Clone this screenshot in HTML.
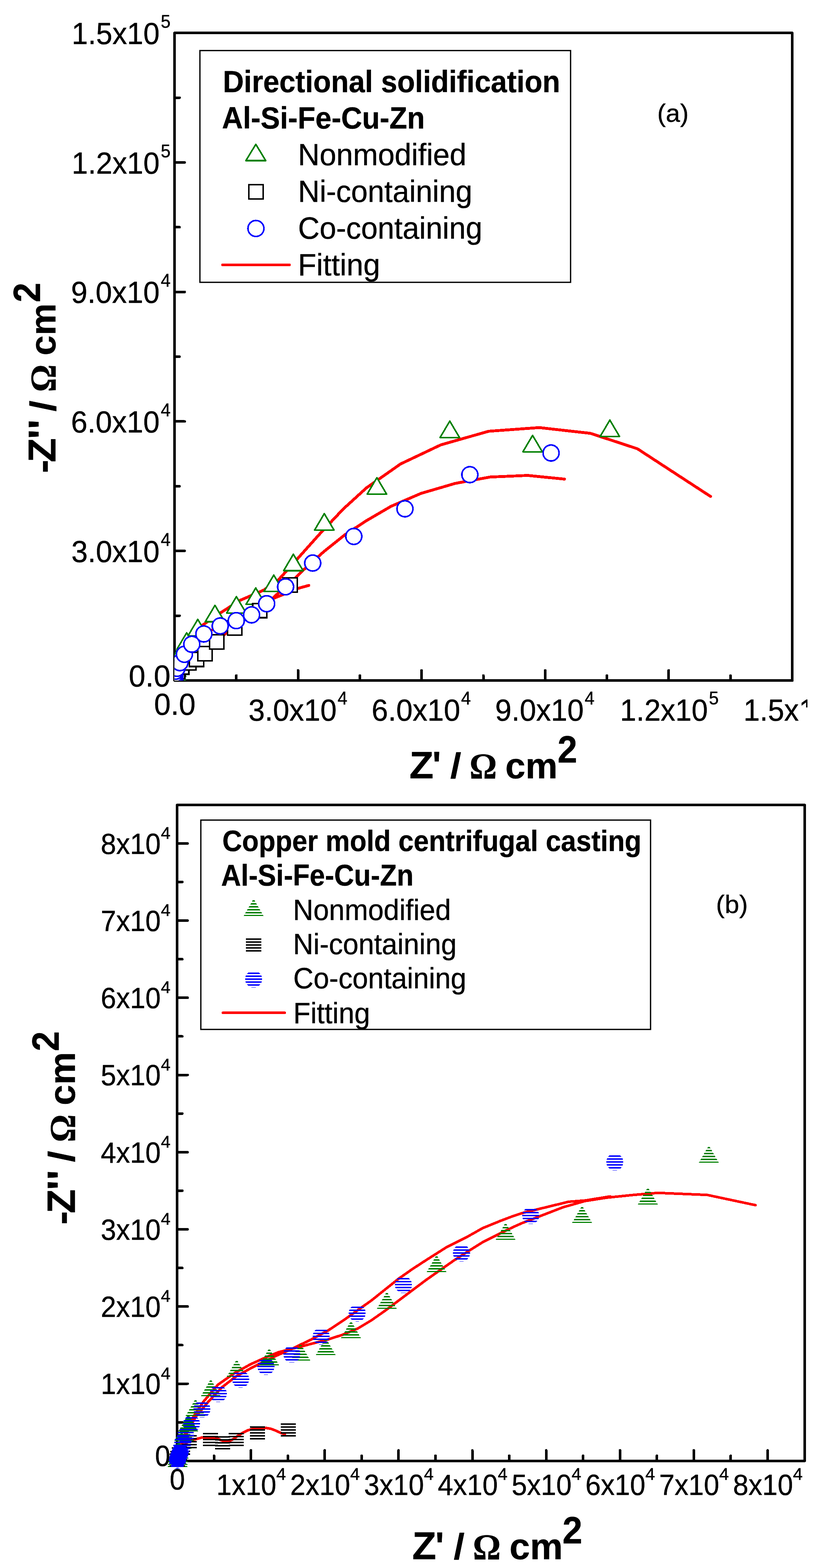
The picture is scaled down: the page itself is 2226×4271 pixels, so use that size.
<!DOCTYPE html>
<html lang="en"><head><meta charset="utf-8"><title>Nyquist plots</title>
<style>html,body{margin:0;padding:0;background:#fff}svg{display:block}text{stroke:#000;stroke-width:.6px;stroke-linejoin:round}</style>
</head><body>
<svg width="2226" height="4271" viewBox="0 0 2226 4271" shape-rendering="crispEdges" font-family="'Liberation Sans', sans-serif" fill="#000">
<rect width="2226" height="4271" fill="#fff"/>
<g id="a">
<rect x="475.6" y="89.7" width="1682.9" height="1763.8" fill="none" stroke="#000" stroke-width="7" stroke-linejoin="round"/>
<line x1="643.89" y1="1853.5" x2="643.89" y2="1840" stroke="#000" stroke-width="7" stroke-linecap="round"/>
<line x1="475.6" y1="1677.12" x2="489.1" y2="1677.12" stroke="#000" stroke-width="7" stroke-linecap="round"/>
<line x1="812.18" y1="1853.5" x2="812.18" y2="1826" stroke="#000" stroke-width="7" stroke-linecap="round"/>
<line x1="475.6" y1="1500.74" x2="503.1" y2="1500.74" stroke="#000" stroke-width="7" stroke-linecap="round"/>
<line x1="980.47" y1="1853.5" x2="980.47" y2="1840" stroke="#000" stroke-width="7" stroke-linecap="round"/>
<line x1="475.6" y1="1324.36" x2="489.1" y2="1324.36" stroke="#000" stroke-width="7" stroke-linecap="round"/>
<line x1="1148.76" y1="1853.5" x2="1148.76" y2="1826" stroke="#000" stroke-width="7" stroke-linecap="round"/>
<line x1="475.6" y1="1147.98" x2="503.1" y2="1147.98" stroke="#000" stroke-width="7" stroke-linecap="round"/>
<line x1="1317.05" y1="1853.5" x2="1317.05" y2="1840" stroke="#000" stroke-width="7" stroke-linecap="round"/>
<line x1="475.6" y1="971.6" x2="489.1" y2="971.6" stroke="#000" stroke-width="7" stroke-linecap="round"/>
<line x1="1485.34" y1="1853.5" x2="1485.34" y2="1826" stroke="#000" stroke-width="7" stroke-linecap="round"/>
<line x1="475.6" y1="795.22" x2="503.1" y2="795.22" stroke="#000" stroke-width="7" stroke-linecap="round"/>
<line x1="1653.63" y1="1853.5" x2="1653.63" y2="1840" stroke="#000" stroke-width="7" stroke-linecap="round"/>
<line x1="475.6" y1="618.84" x2="489.1" y2="618.84" stroke="#000" stroke-width="7" stroke-linecap="round"/>
<line x1="1821.92" y1="1853.5" x2="1821.92" y2="1826" stroke="#000" stroke-width="7" stroke-linecap="round"/>
<line x1="475.6" y1="442.46" x2="503.1" y2="442.46" stroke="#000" stroke-width="7" stroke-linecap="round"/>
<line x1="1990.21" y1="1853.5" x2="1990.21" y2="1840" stroke="#000" stroke-width="7" stroke-linecap="round"/>
<line x1="475.6" y1="266.08" x2="489.1" y2="266.08" stroke="#000" stroke-width="7" stroke-linecap="round"/>
<text transform="translate(195.32,119.85) scale(0.9974,1.0404)" font-size="80">1.5x10</text>
<text transform="translate(437.9,75.75) scale(1.0000,1.0485)" font-size="48">5</text>
<text transform="translate(195.32,472.61) scale(0.9974,1.0404)" font-size="80">1.2x10</text>
<text transform="translate(437.9,428.51) scale(1.0000,1.0485)" font-size="48">5</text>
<text transform="translate(193.48,825.37) scale(1.0052,1.0404)" font-size="80">9.0x10</text>
<text transform="translate(437.9,781.27) scale(1.0000,1.0303)" font-size="48">4</text>
<text transform="translate(193.48,1178.13) scale(1.0052,1.0404)" font-size="80">6.0x10</text>
<text transform="translate(437.9,1134.03) scale(1.0000,1.0303)" font-size="48">4</text>
<text transform="translate(194.5,1530.89) scale(1.0009,1.0404)" font-size="80">3.0x10</text>
<text transform="translate(437.9,1486.79) scale(1.0000,1.0303)" font-size="48">4</text>
<text transform="translate(350.83,1869.5) scale(1.0219,1.0404)" font-size="80">0.0</text>
<text transform="translate(676.88,1962.8) scale(1.0009,1.0404)" font-size="80">3.0x10</text>
<text transform="translate(919.78,1918.7) scale(1.0000,1.0303)" font-size="48">4</text>
<text transform="translate(1012.44,1962.8) scale(1.0052,1.0404)" font-size="80">6.0x10</text>
<text transform="translate(1256.36,1918.7) scale(1.0000,1.0303)" font-size="48">4</text>
<text transform="translate(1349.02,1962.8) scale(1.0052,1.0404)" font-size="80">9.0x10</text>
<text transform="translate(1592.94,1918.7) scale(1.0000,1.0303)" font-size="48">4</text>
<text transform="translate(1689.14,1962.8) scale(0.9974,1.0404)" font-size="80">1.2x10</text>
<text transform="translate(1931.52,1918.7) scale(1.0000,1.0485)" font-size="48">5</text>
<text transform="translate(2025.72,1962.8) scale(0.9974,1.0404)" font-size="80">1.5x10</text>
<text transform="translate(2268.1,1918.7) scale(1.0000,1.0485)" font-size="48">5</text>
<text transform="translate(419.64,1947.3) scale(1.0190,1.0404)" font-size="80">0.0</text>
<text transform="translate(1115.57,2119.7) scale(1.0764,1.0435)" font-size="100" font-weight="bold">Z</text>
<text transform="translate(1177.94,2119.7) scale(0.9929,1.0435)" font-size="100" font-weight="bold">'</text>
<text transform="translate(1226.72,2119.2) scale(1.0808,0.9730)" font-size="100" font-weight="bold">/</text>
<text transform="translate(1279.24,2119.7) scale(0.9324,0.9894)" font-size="100" font-weight="bold" font-family="'Liberation Serif', serif">Ω</text>
<text transform="translate(1376.75,2119.7) scale(0.9866,0.9745)" font-size="100" font-weight="bold">cm</text>
<text transform="translate(1519.1,2076.7) scale(0.9673,1.0314)" font-size="100" font-weight="bold">2</text>
<g transform="translate(151.2,1284.4) rotate(-90)">
<text transform="translate(-4.43,0) scale(1.1080,1.0478)" font-size="100" font-weight="bold">-</text>
<text transform="translate(24.84,0) scale(1.0855,1.0478)" font-size="100" font-weight="bold">Z</text>
<text transform="translate(88.21,0) scale(1.1378,1.0478)" font-size="100" font-weight="bold">''</text>
<text transform="translate(163.32,-0.5) scale(1.0808,0.9770)" font-size="100" font-weight="bold">/</text>
<text transform="translate(216.7,0) scale(0.9394,1.0030)" font-size="100" font-weight="bold" font-family="'Liberation Serif', serif">Ω</text>
<text transform="translate(316.17,0) scale(0.9828,0.9855)" font-size="100" font-weight="bold">cm</text>
<text transform="translate(460.91,-42.4) scale(0.9633,1.0314)" font-size="100" font-weight="bold">2</text>
</g>
<clipPath id="ca"><rect x="475.6" y="89.7" width="1682.9" height="1763.8"/></clipPath>
<g clip-path="url(#ca)">
<polyline points="476,1851 479,1830 484,1806 491,1786 500,1766 510,1750 524,1730 540,1713 552.3,1702.5 600,1669.8 653.6,1635.5 719.1,1607.2 757.8,1580.4 808.4,1524.4 871.7,1453.7 935,1386.7 998.3,1329 1091.3,1263.8 1201.2,1211.7 1331.3,1174.7 1469,1164.7 1608.5,1180.3 1736.8,1222.4 1936,1352.3" fill="none" stroke="#ff0000" stroke-width="7.8" stroke-linejoin="round" stroke-linecap="round"/>
<polyline points="476,1852 484,1830 495,1817 514.6,1805.4 535.3,1796 558.5,1780.7 590.4,1748.4 615,1725 639.3,1705 690,1660 745,1630 775,1618 811,1603 841.5,1594.6" fill="none" stroke="#ff0000" stroke-width="7.8" stroke-linejoin="round" stroke-linecap="round"/>
<polyline points="476,1851 478,1835 482.2,1820.4 490,1805 502,1782 522.6,1755 555.4,1726.7 600,1705 643.8,1690.6 685.5,1674.8 726.6,1644.5 760,1614 795.4,1584 827,1552.3 882.9,1502.1 938.7,1457.4 998.3,1418.3 1065.3,1379.2 1147.2,1343.9 1240.3,1316.7 1335,1299.4 1437.4,1295 1537.9,1305" fill="none" stroke="#ff0000" stroke-width="7.8" stroke-linejoin="round" stroke-linecap="round"/>
<path d="M479.5 1809.15L505.95 1853.85L453.05 1853.85Z" fill="#fff" stroke="#008000" stroke-width="4.3" stroke-linejoin="round"/>
<path d="M479.5 1797.65L505.95 1842.35L453.05 1842.35Z" fill="#fff" stroke="#008000" stroke-width="4.3" stroke-linejoin="round"/>
<path d="M482 1782.65L508.45 1827.35L455.55 1827.35Z" fill="#fff" stroke="#008000" stroke-width="4.3" stroke-linejoin="round"/>
<path d="M490.6 1757.65L517.05 1802.35L464.15 1802.35Z" fill="#fff" stroke="#008000" stroke-width="4.3" stroke-linejoin="round"/>
<path d="M508.6 1723.55L535.05 1768.25L482.15 1768.25Z" fill="#fff" stroke="#008000" stroke-width="4.3" stroke-linejoin="round"/>
<path d="M538.9 1686.95L565.35 1731.65L512.45 1731.65Z" fill="#fff" stroke="#008000" stroke-width="4.3" stroke-linejoin="round"/>
<path d="M585.7 1648.85L612.15 1693.55L559.25 1693.55Z" fill="#fff" stroke="#008000" stroke-width="4.3" stroke-linejoin="round"/>
<path d="M644.1 1625.05L670.55 1669.75L617.65 1669.75Z" fill="#fff" stroke="#008000" stroke-width="4.3" stroke-linejoin="round"/>
<path d="M696.8 1601.45L723.25 1646.15L670.35 1646.15Z" fill="#fff" stroke="#008000" stroke-width="4.3" stroke-linejoin="round"/>
<path d="M745.9 1566.35L772.35 1611.05L719.45 1611.05Z" fill="#fff" stroke="#008000" stroke-width="4.3" stroke-linejoin="round"/>
<path d="M799.3 1509.65L825.75 1554.35L772.85 1554.35Z" fill="#fff" stroke="#008000" stroke-width="4.3" stroke-linejoin="round"/>
<path d="M883.6 1399.05L910.05 1443.75L857.15 1443.75Z" fill="#fff" stroke="#008000" stroke-width="4.3" stroke-linejoin="round"/>
<path d="M1026.9 1301.15L1053.35 1345.85L1000.45 1345.85Z" fill="#fff" stroke="#008000" stroke-width="4.3" stroke-linejoin="round"/>
<path d="M1225.5 1147.05L1251.95 1191.75L1199.05 1191.75Z" fill="#fff" stroke="#008000" stroke-width="4.3" stroke-linejoin="round"/>
<path d="M1451.1 1185.95L1477.55 1230.65L1424.65 1230.65Z" fill="#fff" stroke="#008000" stroke-width="4.3" stroke-linejoin="round"/>
<path d="M1661.6 1144.25L1688.05 1188.95L1635.15 1188.95Z" fill="#fff" stroke="#008000" stroke-width="4.3" stroke-linejoin="round"/>
<rect x="457.65" y="1825.65" width="38.7" height="38.7" fill="#fff" stroke="#000" stroke-width="4.3"/>
<rect x="459.65" y="1818.65" width="38.7" height="38.7" fill="#fff" stroke="#000" stroke-width="4.3"/>
<rect x="464.65" y="1810.35" width="38.7" height="38.7" fill="#fff" stroke="#000" stroke-width="4.3"/>
<rect x="475.85" y="1797.95" width="38.7" height="38.7" fill="#fff" stroke="#000" stroke-width="4.3"/>
<rect x="495.35" y="1786.05" width="38.7" height="38.7" fill="#fff" stroke="#000" stroke-width="4.3"/>
<rect x="516.05" y="1776.75" width="38.7" height="38.7" fill="#fff" stroke="#000" stroke-width="4.3"/>
<rect x="539.15" y="1761.35" width="38.7" height="38.7" fill="#fff" stroke="#000" stroke-width="4.3"/>
<rect x="571.15" y="1729.15" width="38.7" height="38.7" fill="#fff" stroke="#000" stroke-width="4.3"/>
<rect x="619.95" y="1691.55" width="38.7" height="38.7" fill="#fff" stroke="#000" stroke-width="4.3"/>
<rect x="688.45" y="1643.85" width="38.7" height="38.7" fill="#fff" stroke="#000" stroke-width="4.3"/>
<rect x="771.35" y="1574.15" width="38.7" height="38.7" fill="#fff" stroke="#000" stroke-width="4.3"/>
<circle cx="475.8" cy="1850.5" r="21.75" fill="#fff" stroke="#0000ff" stroke-width="4.3"/>
<circle cx="476" cy="1847" r="21.75" fill="#fff" stroke="#0000ff" stroke-width="4.3"/>
<circle cx="476" cy="1842" r="21.75" fill="#fff" stroke="#0000ff" stroke-width="4.3"/>
<circle cx="476.5" cy="1836" r="21.75" fill="#fff" stroke="#0000ff" stroke-width="4.3"/>
<circle cx="477.7" cy="1828.5" r="21.75" fill="#fff" stroke="#0000ff" stroke-width="4.3"/>
<circle cx="482.2" cy="1820.4" r="21.75" fill="#fff" stroke="#0000ff" stroke-width="4.3"/>
<circle cx="490.2" cy="1805" r="21.75" fill="#fff" stroke="#0000ff" stroke-width="4.3"/>
<circle cx="502.4" cy="1782.2" r="21.75" fill="#fff" stroke="#0000ff" stroke-width="4.3"/>
<circle cx="522.6" cy="1754.9" r="21.75" fill="#fff" stroke="#0000ff" stroke-width="4.3"/>
<circle cx="555.4" cy="1726.8" r="21.75" fill="#fff" stroke="#0000ff" stroke-width="4.3"/>
<circle cx="600" cy="1705" r="21.75" fill="#fff" stroke="#0000ff" stroke-width="4.3"/>
<circle cx="643.8" cy="1690.6" r="21.75" fill="#fff" stroke="#0000ff" stroke-width="4.3"/>
<circle cx="685.5" cy="1674.8" r="21.75" fill="#fff" stroke="#0000ff" stroke-width="4.3"/>
<circle cx="726.6" cy="1644.5" r="21.75" fill="#fff" stroke="#0000ff" stroke-width="4.3"/>
<circle cx="778.1" cy="1598.3" r="21.75" fill="#fff" stroke="#0000ff" stroke-width="4.3"/>
<circle cx="852" cy="1533.7" r="21.75" fill="#fff" stroke="#0000ff" stroke-width="4.3"/>
<circle cx="964" cy="1461.1" r="21.75" fill="#fff" stroke="#0000ff" stroke-width="4.3"/>
<circle cx="1103.3" cy="1385.9" r="21.75" fill="#fff" stroke="#0000ff" stroke-width="4.3"/>
<circle cx="1280.1" cy="1292.9" r="21.75" fill="#fff" stroke="#0000ff" stroke-width="4.3"/>
<circle cx="1501.4" cy="1233.9" r="21.75" fill="#fff" stroke="#0000ff" stroke-width="4.3"/>
</g>
<rect x="544.7" y="137.7" width="1009.9" height="631.3" fill="#fff" stroke="#000" stroke-width="3.5" shape-rendering="geometricPrecision"/>
<text transform="translate(607.15,250.9) scale(0.9894,1.0369)" font-size="80" font-weight="bold">Directional solidification</text>
<text transform="translate(604.82,349.9) scale(0.9875,1.0527)" font-size="80" font-weight="bold">Al-Si-Fe-Cu-Zn</text>
<text transform="translate(811.85,450.2) scale(1.0217,1.0351)" font-size="80">Nonmodified</text>
<text transform="translate(811.88,549.9) scale(1.0174,1.0351)" font-size="80">Ni-containing</text>
<text transform="translate(811.93,649.8) scale(1.0176,1.0351)" font-size="80">Co-containing</text>
<text transform="translate(811.81,749.8) scale(1.0273,1.0351)" font-size="80">Fitting</text>
<path d="M697 393.05L724.05 437.55L669.95 437.55Z" fill="#fff" stroke="#008000" stroke-width="4.3" stroke-linejoin="round"/>
<rect x="678.25" y="503.25" width="38.7" height="38.7" fill="#fff" stroke="#000" stroke-width="4.3"/>
<circle cx="697.3" cy="622.3" r="21.75" fill="#fff" stroke="#0000ff" stroke-width="4.3"/>
<line x1="606.8" y1="721.4" x2="788.2" y2="721.4" stroke="#ff0000" stroke-width="7.8" stroke-linecap="round"/>
<text transform="translate(1790.75,332.3) scale(1.0132,1.0000)" font-size="69">(a)</text>
<rect x="2200" y="0" width="26" height="2180" fill="#fff"/>
<rect x="2178" y="1927" width="24" height="40" fill="#fff"/>
</g>
<g id="b">
<rect x="482.6" y="2192.7" width="1709.9" height="1786.6" fill="none" stroke="#000" stroke-width="7" stroke-linejoin="round"/>
<line x1="583.15" y1="3979.3" x2="583.15" y2="3965.3" stroke="#000" stroke-width="7" stroke-linecap="round"/>
<line x1="482.6" y1="3874.18" x2="496.6" y2="3874.18" stroke="#000" stroke-width="7" stroke-linecap="round"/>
<line x1="683.7" y1="3979.3" x2="683.7" y2="3950.8" stroke="#000" stroke-width="7" stroke-linecap="round"/>
<line x1="482.6" y1="3769.05" x2="511.1" y2="3769.05" stroke="#000" stroke-width="7" stroke-linecap="round"/>
<line x1="784.25" y1="3979.3" x2="784.25" y2="3965.3" stroke="#000" stroke-width="7" stroke-linecap="round"/>
<line x1="482.6" y1="3663.93" x2="496.6" y2="3663.93" stroke="#000" stroke-width="7" stroke-linecap="round"/>
<line x1="884.8" y1="3979.3" x2="884.8" y2="3950.8" stroke="#000" stroke-width="7" stroke-linecap="round"/>
<line x1="482.6" y1="3558.8" x2="511.1" y2="3558.8" stroke="#000" stroke-width="7" stroke-linecap="round"/>
<line x1="985.35" y1="3979.3" x2="985.35" y2="3965.3" stroke="#000" stroke-width="7" stroke-linecap="round"/>
<line x1="482.6" y1="3453.68" x2="496.6" y2="3453.68" stroke="#000" stroke-width="7" stroke-linecap="round"/>
<line x1="1085.9" y1="3979.3" x2="1085.9" y2="3950.8" stroke="#000" stroke-width="7" stroke-linecap="round"/>
<line x1="482.6" y1="3348.55" x2="511.1" y2="3348.55" stroke="#000" stroke-width="7" stroke-linecap="round"/>
<line x1="1186.45" y1="3979.3" x2="1186.45" y2="3965.3" stroke="#000" stroke-width="7" stroke-linecap="round"/>
<line x1="482.6" y1="3243.43" x2="496.6" y2="3243.43" stroke="#000" stroke-width="7" stroke-linecap="round"/>
<line x1="1287" y1="3979.3" x2="1287" y2="3950.8" stroke="#000" stroke-width="7" stroke-linecap="round"/>
<line x1="482.6" y1="3138.3" x2="511.1" y2="3138.3" stroke="#000" stroke-width="7" stroke-linecap="round"/>
<line x1="1387.55" y1="3979.3" x2="1387.55" y2="3965.3" stroke="#000" stroke-width="7" stroke-linecap="round"/>
<line x1="482.6" y1="3033.18" x2="496.6" y2="3033.18" stroke="#000" stroke-width="7" stroke-linecap="round"/>
<line x1="1488.1" y1="3979.3" x2="1488.1" y2="3950.8" stroke="#000" stroke-width="7" stroke-linecap="round"/>
<line x1="482.6" y1="2928.05" x2="511.1" y2="2928.05" stroke="#000" stroke-width="7" stroke-linecap="round"/>
<line x1="1588.65" y1="3979.3" x2="1588.65" y2="3965.3" stroke="#000" stroke-width="7" stroke-linecap="round"/>
<line x1="482.6" y1="2822.93" x2="496.6" y2="2822.93" stroke="#000" stroke-width="7" stroke-linecap="round"/>
<line x1="1689.2" y1="3979.3" x2="1689.2" y2="3950.8" stroke="#000" stroke-width="7" stroke-linecap="round"/>
<line x1="482.6" y1="2717.8" x2="511.1" y2="2717.8" stroke="#000" stroke-width="7" stroke-linecap="round"/>
<line x1="1789.75" y1="3979.3" x2="1789.75" y2="3965.3" stroke="#000" stroke-width="7" stroke-linecap="round"/>
<line x1="482.6" y1="2612.68" x2="496.6" y2="2612.68" stroke="#000" stroke-width="7" stroke-linecap="round"/>
<line x1="1890.3" y1="3979.3" x2="1890.3" y2="3950.8" stroke="#000" stroke-width="7" stroke-linecap="round"/>
<line x1="482.6" y1="2507.55" x2="511.1" y2="2507.55" stroke="#000" stroke-width="7" stroke-linecap="round"/>
<line x1="1990.85" y1="3979.3" x2="1990.85" y2="3965.3" stroke="#000" stroke-width="7" stroke-linecap="round"/>
<line x1="482.6" y1="2402.43" x2="496.6" y2="2402.43" stroke="#000" stroke-width="7" stroke-linecap="round"/>
<line x1="2091.4" y1="3979.3" x2="2091.4" y2="3950.8" stroke="#000" stroke-width="7" stroke-linecap="round"/>
<line x1="482.6" y1="2297.3" x2="511.1" y2="2297.3" stroke="#000" stroke-width="7" stroke-linecap="round"/>
<text transform="translate(274.5,3797.45) scale(0.9669,1.0236)" font-size="78">1x10</text>
<text transform="translate(438.37,3756.55) scale(1.0261,1.0000)" font-size="46">4</text>
<text transform="translate(589.5,4072.1) scale(0.9669,1.0236)" font-size="78">1x10</text>
<text transform="translate(752.87,4030.9) scale(1.0348,1.0031)" font-size="46">4</text>
<text transform="translate(274.5,3587.2) scale(0.9669,1.0236)" font-size="78">2x10</text>
<text transform="translate(438.37,3546.3) scale(1.0261,1.0000)" font-size="46">4</text>
<text transform="translate(790.6,4072.1) scale(0.9669,1.0236)" font-size="78">2x10</text>
<text transform="translate(953.97,4030.9) scale(1.0348,1.0031)" font-size="46">4</text>
<text transform="translate(274.5,3376.95) scale(0.9669,1.0236)" font-size="78">3x10</text>
<text transform="translate(438.37,3336.05) scale(1.0261,1.0000)" font-size="46">4</text>
<text transform="translate(991.7,4072.1) scale(0.9669,1.0236)" font-size="78">3x10</text>
<text transform="translate(1155.07,4030.9) scale(1.0348,1.0031)" font-size="46">4</text>
<text transform="translate(274.5,3166.7) scale(0.9669,1.0236)" font-size="78">4x10</text>
<text transform="translate(438.37,3125.8) scale(1.0261,1.0000)" font-size="46">4</text>
<text transform="translate(1192.8,4072.1) scale(0.9669,1.0236)" font-size="78">4x10</text>
<text transform="translate(1356.17,4030.9) scale(1.0348,1.0031)" font-size="46">4</text>
<text transform="translate(274.5,2956.45) scale(0.9669,1.0236)" font-size="78">5x10</text>
<text transform="translate(438.37,2915.55) scale(1.0261,1.0000)" font-size="46">4</text>
<text transform="translate(1393.9,4072.1) scale(0.9669,1.0236)" font-size="78">5x10</text>
<text transform="translate(1557.27,4030.9) scale(1.0348,1.0031)" font-size="46">4</text>
<text transform="translate(274.5,2746.2) scale(0.9669,1.0236)" font-size="78">6x10</text>
<text transform="translate(438.37,2705.3) scale(1.0261,1.0000)" font-size="46">4</text>
<text transform="translate(1595,4072.1) scale(0.9669,1.0236)" font-size="78">6x10</text>
<text transform="translate(1758.37,4030.9) scale(1.0348,1.0031)" font-size="46">4</text>
<text transform="translate(274.5,2535.95) scale(0.9669,1.0236)" font-size="78">7x10</text>
<text transform="translate(438.37,2495.05) scale(1.0261,1.0000)" font-size="46">4</text>
<text transform="translate(1796.1,4072.1) scale(0.9669,1.0236)" font-size="78">7x10</text>
<text transform="translate(1959.47,4030.9) scale(1.0348,1.0031)" font-size="46">4</text>
<text transform="translate(274.5,2325.7) scale(0.9669,1.0236)" font-size="78">8x10</text>
<text transform="translate(438.37,2284.8) scale(1.0261,1.0000)" font-size="46">4</text>
<text transform="translate(1997.2,4072.1) scale(0.9669,1.0236)" font-size="78">8x10</text>
<text transform="translate(2160.57,4030.9) scale(1.0348,1.0031)" font-size="46">4</text>
<text transform="translate(422.21,3992.8) scale(0.9649,1.0236)" font-size="78">0</text>
<text transform="translate(462.31,4056.7) scale(0.9622,1.0236)" font-size="78">0</text>
<text transform="translate(1122.88,4246.9) scale(1.0745,1.0580)" font-size="100" font-weight="bold">Z</text>
<text transform="translate(1185.96,4246.9) scale(1.0071,1.0580)" font-size="100" font-weight="bold">'</text>
<text transform="translate(1236.03,4246.4) scale(1.0731,0.9865)" font-size="100" font-weight="bold">/</text>
<text transform="translate(1288.24,4246.9) scale(0.9521,0.9985)" font-size="100" font-weight="bold" font-family="'Liberation Serif', serif">Ω</text>
<text transform="translate(1387.98,4246.9) scale(1.0060,0.9927)" font-size="100" font-weight="bold">cm</text>
<text transform="translate(1532.57,4203.9) scale(0.9755,1.0457)" font-size="100" font-weight="bold">2</text>
<g transform="translate(203.7,3331.6) rotate(-90)">
<text transform="translate(-4.5,0) scale(1.1240,1.0710)" font-size="100" font-weight="bold">-</text>
<text transform="translate(26.36,0) scale(1.0800,1.0710)" font-size="100" font-weight="bold">Z</text>
<text transform="translate(89.7,0) scale(1.1595,1.0710)" font-size="100" font-weight="bold">''</text>
<text transform="translate(166.19,-0.5) scale(1.1077,0.9986)" font-size="100" font-weight="bold">/</text>
<text transform="translate(220.25,0) scale(0.9493,1.0030)" font-size="100" font-weight="bold" font-family="'Liberation Serif', serif">Ω</text>
<text transform="translate(320.88,0) scale(1.0060,1.0018)" font-size="100" font-weight="bold">cm</text>
<text transform="translate(468.06,-43.8) scale(0.9816,1.0414)" font-size="100" font-weight="bold">2</text>
</g>
<polyline points="483,3976 487,3955 493,3935 500,3915 513,3885 527,3858.7 553.8,3818.5 594,3771.6 638.7,3740.3 683.4,3715.7 728.1,3695.6 760,3682.8 785,3676.5 838.9,3662.8 894,3648.5 933.5,3635.6 974.5,3618.8 1011.7,3596.5 1048.9,3570.4 1086.2,3542.5 1123.4,3514.6 1160.6,3486.7 1197.8,3460.6 1235.1,3434.5 1272.3,3410.3 1317,3382.4 1365.4,3358.2 1400,3341.5 1422.7,3331.4 1534.4,3288.3 1593.8,3271.5 1653.7,3262.2 1726,3254.8 1793,3249.2 1927,3254.8 2058.5,3282.7" fill="none" stroke="#ff0000" stroke-width="7" stroke-linejoin="round" stroke-linecap="round"/>
<polyline points="483,3977 488,3958 495,3938 504,3915 517,3888 533.7,3858.7 567.2,3818.5 605.2,3778.3 643.2,3749.2 683.4,3726.9 728.1,3704.6 760,3689.5 785,3679 815,3664.5 849.4,3648 894,3624 937.2,3595.5 974.5,3568.8 1011.7,3542.5 1048.9,3512.7 1086.2,3483 1123.4,3456.9 1160.6,3432.7 1216.5,3397.3 1272.3,3369.4 1315.1,3345.2 1365.4,3324.7 1400,3311.7 1426.6,3303.2 1549.4,3273.4 1593.8,3270 1662,3259" fill="none" stroke="#ff0000" stroke-width="7" stroke-linejoin="round" stroke-linecap="round"/>
<polyline points="483,3976 488,3958 496,3942 508,3930 524.8,3922.4 550,3915.7 570.9,3915.1 591.7,3917.8 602.1,3923 612.6,3926.3 623,3925.5 633.4,3921.3 645.9,3912.6 660.5,3903.2 675.1,3895.9 691.8,3891.3 708.5,3889.6 725.1,3889.6 737.7,3891.7 750.2,3896.3 762.7,3902.1 776.2,3907.3" fill="none" stroke="#ff0000" stroke-width="7" stroke-linejoin="round" stroke-linecap="round"/>
<path transform="translate(483.8,3995.8)" d="M-2.31 -43L2.31 -43L4.62 -39L-4.62 -39ZM-6.93 -35L6.93 -35L9.24 -31L-9.24 -31ZM-11.55 -27L11.55 -27L13.86 -23L-13.86 -23ZM-16.17 -19L16.17 -19L18.48 -15L-18.48 -15ZM-20.78 -11L20.78 -11L23.09 -7L-23.09 -7ZM-25.4 -3L25.4 -3L27.14 0L-27.14 0Z" fill="#008000"/>
<path transform="translate(484.2,3989.8)" d="M-2.31 -43L2.31 -43L4.62 -39L-4.62 -39ZM-6.93 -35L6.93 -35L9.24 -31L-9.24 -31ZM-11.55 -27L11.55 -27L13.86 -23L-13.86 -23ZM-16.17 -19L16.17 -19L18.48 -15L-18.48 -15ZM-20.78 -11L20.78 -11L23.09 -7L-23.09 -7ZM-25.4 -3L25.4 -3L27.14 0L-27.14 0Z" fill="#008000"/>
<path transform="translate(485,3982.8)" d="M-2.31 -43L2.31 -43L4.62 -39L-4.62 -39ZM-6.93 -35L6.93 -35L9.24 -31L-9.24 -31ZM-11.55 -27L11.55 -27L13.86 -23L-13.86 -23ZM-16.17 -19L16.17 -19L18.48 -15L-18.48 -15ZM-20.78 -11L20.78 -11L23.09 -7L-23.09 -7ZM-25.4 -3L25.4 -3L27.14 0L-27.14 0Z" fill="#008000"/>
<path transform="translate(487,3972.8)" d="M-2.31 -43L2.31 -43L4.62 -39L-4.62 -39ZM-6.93 -35L6.93 -35L9.24 -31L-9.24 -31ZM-11.55 -27L11.55 -27L13.86 -23L-13.86 -23ZM-16.17 -19L16.17 -19L18.48 -15L-18.48 -15ZM-20.78 -11L20.78 -11L23.09 -7L-23.09 -7ZM-25.4 -3L25.4 -3L27.14 0L-27.14 0Z" fill="#008000"/>
<path transform="translate(490,3960.8)" d="M-2.31 -43L2.31 -43L4.62 -39L-4.62 -39ZM-6.93 -35L6.93 -35L9.24 -31L-9.24 -31ZM-11.55 -27L11.55 -27L13.86 -23L-13.86 -23ZM-16.17 -19L16.17 -19L18.48 -15L-18.48 -15ZM-20.78 -11L20.78 -11L23.09 -7L-23.09 -7ZM-25.4 -3L25.4 -3L27.14 0L-27.14 0Z" fill="#008000"/>
<path transform="translate(495,3945.8)" d="M-2.31 -43L2.31 -43L4.62 -39L-4.62 -39ZM-6.93 -35L6.93 -35L9.24 -31L-9.24 -31ZM-11.55 -27L11.55 -27L13.86 -23L-13.86 -23ZM-16.17 -19L16.17 -19L18.48 -15L-18.48 -15ZM-20.78 -11L20.78 -11L23.09 -7L-23.09 -7ZM-25.4 -3L25.4 -3L27.14 0L-27.14 0Z" fill="#008000"/>
<path transform="translate(501.9,3925.4)" d="M-2.31 -43L2.31 -43L4.62 -39L-4.62 -39ZM-6.93 -35L6.93 -35L9.24 -31L-9.24 -31ZM-11.55 -27L11.55 -27L13.86 -23L-13.86 -23ZM-16.17 -19L16.17 -19L18.48 -15L-18.48 -15ZM-20.78 -11L20.78 -11L23.09 -7L-23.09 -7ZM-25.4 -3L25.4 -3L27.14 0L-27.14 0Z" fill="#008000"/>
<path transform="translate(513,3898.6)" d="M-2.31 -43L2.31 -43L4.62 -39L-4.62 -39ZM-6.93 -35L6.93 -35L9.24 -31L-9.24 -31ZM-11.55 -27L11.55 -27L13.86 -23L-13.86 -23ZM-16.17 -19L16.17 -19L18.48 -15L-18.48 -15ZM-20.78 -11L20.78 -11L23.09 -7L-23.09 -7ZM-25.4 -3L25.4 -3L27.14 0L-27.14 0Z" fill="#008000"/>
<path transform="translate(532.6,3857.3)" d="M-2.31 -43L2.31 -43L4.62 -39L-4.62 -39ZM-6.93 -35L6.93 -35L9.24 -31L-9.24 -31ZM-11.55 -27L11.55 -27L13.86 -23L-13.86 -23ZM-16.17 -19L16.17 -19L18.48 -15L-18.48 -15ZM-20.78 -11L20.78 -11L23.09 -7L-23.09 -7ZM-25.4 -3L25.4 -3L27.14 0L-27.14 0Z" fill="#008000"/>
<path transform="translate(574.3,3803.4)" d="M-2.31 -43L2.31 -43L4.62 -39L-4.62 -39ZM-6.93 -35L6.93 -35L9.24 -31L-9.24 -31ZM-11.55 -27L11.55 -27L13.86 -23L-13.86 -23ZM-16.17 -19L16.17 -19L18.48 -15L-18.48 -15ZM-20.78 -11L20.78 -11L23.09 -7L-23.09 -7ZM-25.4 -3L25.4 -3L27.14 0L-27.14 0Z" fill="#008000"/>
<path transform="translate(644.9,3749.8)" d="M-2.31 -43L2.31 -43L4.62 -39L-4.62 -39ZM-6.93 -35L6.93 -35L9.24 -31L-9.24 -31ZM-11.55 -27L11.55 -27L13.86 -23L-13.86 -23ZM-16.17 -19L16.17 -19L18.48 -15L-18.48 -15ZM-20.78 -11L20.78 -11L23.09 -7L-23.09 -7ZM-25.4 -3L25.4 -3L27.14 0L-27.14 0Z" fill="#008000"/>
<path transform="translate(733.6,3718.9)" d="M-2.31 -43L2.31 -43L4.62 -39L-4.62 -39ZM-6.93 -35L6.93 -35L9.24 -31L-9.24 -31ZM-11.55 -27L11.55 -27L13.86 -23L-13.86 -23ZM-16.17 -19L16.17 -19L18.48 -15L-18.48 -15ZM-20.78 -11L20.78 -11L23.09 -7L-23.09 -7ZM-25.4 -3L25.4 -3L27.14 0L-27.14 0Z" fill="#008000"/>
<path transform="translate(818.5,3706.3)" d="M-2.31 -43L2.31 -43L4.62 -39L-4.62 -39ZM-6.93 -35L6.93 -35L9.24 -31L-9.24 -31ZM-11.55 -27L11.55 -27L13.86 -23L-13.86 -23ZM-16.17 -19L16.17 -19L18.48 -15L-18.48 -15ZM-20.78 -11L20.78 -11L23.09 -7L-23.09 -7ZM-25.4 -3L25.4 -3L27.14 0L-27.14 0Z" fill="#008000"/>
<path transform="translate(887.4,3691.1)" d="M-2.31 -43L2.31 -43L4.62 -39L-4.62 -39ZM-6.93 -35L6.93 -35L9.24 -31L-9.24 -31ZM-11.55 -27L11.55 -27L13.86 -23L-13.86 -23ZM-16.17 -19L16.17 -19L18.48 -15L-18.48 -15ZM-20.78 -11L20.78 -11L23.09 -7L-23.09 -7ZM-25.4 -3L25.4 -3L27.14 0L-27.14 0Z" fill="#008000"/>
<path transform="translate(956.4,3644.6)" d="M-2.31 -43L2.31 -43L4.62 -39L-4.62 -39ZM-6.93 -35L6.93 -35L9.24 -31L-9.24 -31ZM-11.55 -27L11.55 -27L13.86 -23L-13.86 -23ZM-16.17 -19L16.17 -19L18.48 -15L-18.48 -15ZM-20.78 -11L20.78 -11L23.09 -7L-23.09 -7ZM-25.4 -3L25.4 -3L27.14 0L-27.14 0Z" fill="#008000"/>
<path transform="translate(1054.1,3564.9)" d="M-2.31 -43L2.31 -43L4.62 -39L-4.62 -39ZM-6.93 -35L6.93 -35L9.24 -31L-9.24 -31ZM-11.55 -27L11.55 -27L13.86 -23L-13.86 -23ZM-16.17 -19L16.17 -19L18.48 -15L-18.48 -15ZM-20.78 -11L20.78 -11L23.09 -7L-23.09 -7ZM-25.4 -3L25.4 -3L27.14 0L-27.14 0Z" fill="#008000"/>
<path transform="translate(1189.5,3465.1)" d="M-2.31 -43L2.31 -43L4.62 -39L-4.62 -39ZM-6.93 -35L6.93 -35L9.24 -31L-9.24 -31ZM-11.55 -27L11.55 -27L13.86 -23L-13.86 -23ZM-16.17 -19L16.17 -19L18.48 -15L-18.48 -15ZM-20.78 -11L20.78 -11L23.09 -7L-23.09 -7ZM-25.4 -3L25.4 -3L27.14 0L-27.14 0Z" fill="#008000"/>
<path transform="translate(1377.6,3377.1)" d="M-2.31 -43L2.31 -43L4.62 -39L-4.62 -39ZM-6.93 -35L6.93 -35L9.24 -31L-9.24 -31ZM-11.55 -27L11.55 -27L13.86 -23L-13.86 -23ZM-16.17 -19L16.17 -19L18.48 -15L-18.48 -15ZM-20.78 -11L20.78 -11L23.09 -7L-23.09 -7ZM-25.4 -3L25.4 -3L27.14 0L-27.14 0Z" fill="#008000"/>
<path transform="translate(1585.9,3330.8)" d="M-2.31 -43L2.31 -43L4.62 -39L-4.62 -39ZM-6.93 -35L6.93 -35L9.24 -31L-9.24 -31ZM-11.55 -27L11.55 -27L13.86 -23L-13.86 -23ZM-16.17 -19L16.17 -19L18.48 -15L-18.48 -15ZM-20.78 -11L20.78 -11L23.09 -7L-23.09 -7ZM-25.4 -3L25.4 -3L27.14 0L-27.14 0Z" fill="#008000"/>
<path transform="translate(1765.2,3280.9)" d="M-2.31 -43L2.31 -43L4.62 -39L-4.62 -39ZM-6.93 -35L6.93 -35L9.24 -31L-9.24 -31ZM-11.55 -27L11.55 -27L13.86 -23L-13.86 -23ZM-16.17 -19L16.17 -19L18.48 -15L-18.48 -15ZM-20.78 -11L20.78 -11L23.09 -7L-23.09 -7ZM-25.4 -3L25.4 -3L27.14 0L-27.14 0Z" fill="#008000"/>
<path transform="translate(1931.3,3167)" d="M-2.31 -43L2.31 -43L4.62 -39L-4.62 -39ZM-6.93 -35L6.93 -35L9.24 -31L-9.24 -31ZM-11.55 -27L11.55 -27L13.86 -23L-13.86 -23ZM-16.17 -19L16.17 -19L18.48 -15L-18.48 -15ZM-20.78 -11L20.78 -11L23.09 -7L-23.09 -7ZM-25.4 -3L25.4 -3L27.14 0L-27.14 0Z" fill="#008000"/>
<path transform="translate(483,3977)" d="M-20.6 -18h41.2v4h-41.2ZM-20.6 -10h41.2v4h-41.2ZM-20.6 -2h41.2v4h-41.2ZM-20.6 6h41.2v4h-41.2ZM-20.6 14h41.2v4h-41.2Z" fill="#000"/>
<path transform="translate(485,3970)" d="M-20.6 -18h41.2v4h-41.2ZM-20.6 -10h41.2v4h-41.2ZM-20.6 -2h41.2v4h-41.2ZM-20.6 6h41.2v4h-41.2ZM-20.6 14h41.2v4h-41.2Z" fill="#000"/>
<path transform="translate(489,3960)" d="M-20.6 -18h41.2v4h-41.2ZM-20.6 -10h41.2v4h-41.2ZM-20.6 -2h41.2v4h-41.2ZM-20.6 6h41.2v4h-41.2ZM-20.6 14h41.2v4h-41.2Z" fill="#000"/>
<path transform="translate(497,3945)" d="M-20.6 -18h41.2v4h-41.2ZM-20.6 -10h41.2v4h-41.2ZM-20.6 -2h41.2v4h-41.2ZM-20.6 6h41.2v4h-41.2ZM-20.6 14h41.2v4h-41.2Z" fill="#000"/>
<path transform="translate(515.8,3927)" d="M-20.6 -18h41.2v4h-41.2ZM-20.6 -10h41.2v4h-41.2ZM-20.6 -2h41.2v4h-41.2ZM-20.6 6h41.2v4h-41.2ZM-20.6 14h41.2v4h-41.2Z" fill="#000"/>
<path transform="translate(573.6,3920.6)" d="M-20.6 -18h41.2v4h-41.2ZM-20.6 -10h41.2v4h-41.2ZM-20.6 -2h41.2v4h-41.2ZM-20.6 6h41.2v4h-41.2ZM-20.6 14h41.2v4h-41.2Z" fill="#000"/>
<path transform="translate(606.5,3930)" d="M-20.6 -18h41.2v4h-41.2ZM-20.6 -10h41.2v4h-41.2ZM-20.6 -2h41.2v4h-41.2ZM-20.6 6h41.2v4h-41.2ZM-20.6 14h41.2v4h-41.2Z" fill="#000"/>
<path transform="translate(643.5,3920.6)" d="M-20.6 -18h41.2v4h-41.2ZM-20.6 -10h41.2v4h-41.2ZM-20.6 -2h41.2v4h-41.2ZM-20.6 6h41.2v4h-41.2ZM-20.6 14h41.2v4h-41.2Z" fill="#000"/>
<path transform="translate(701.7,3903)" d="M-20.6 -18h41.2v4h-41.2ZM-20.6 -10h41.2v4h-41.2ZM-20.6 -2h41.2v4h-41.2ZM-20.6 6h41.2v4h-41.2ZM-20.6 14h41.2v4h-41.2Z" fill="#000"/>
<path transform="translate(785.8,3895.4)" d="M-20.6 -18h41.2v4h-41.2ZM-20.6 -10h41.2v4h-41.2ZM-20.6 -2h41.2v4h-41.2ZM-20.6 6h41.2v4h-41.2ZM-20.6 14h41.2v4h-41.2Z" fill="#000"/>
<path transform="translate(483,3978.3)" d="M14.64 -18L15.79 -17L16.8 -16L17.7 -15L18.5 -14L-18.5 -14L-17.7 -15L-16.8 -16L-15.79 -17L-14.64 -18ZM20.93 -10L21.38 -9L21.78 -8L22.12 -7L22.41 -6L-22.41 -6L-22.12 -7L-21.78 -8L-21.38 -9L-20.93 -10ZM23.11 -2L23.18 -1L23.2 0L23.18 1L23.11 2L-23.11 2L-23.18 1L-23.2 0L-23.18 -1L-23.11 -2ZM22.41 6L22.12 7L21.78 8L21.38 9L20.93 10L-20.93 10L-21.38 9L-21.78 8L-22.12 7L-22.41 6ZM18.5 14L17.7 15L16.8 16L15.79 17L14.64 18L-14.64 18L-15.79 17L-16.8 16L-17.7 15L-18.5 14ZM7.36 22L6.57 22.25L5.66 22.5L4.55 22.75L3.04 23L-3.04 23L-4.55 22.75L-5.66 22.5L-6.57 22.25L-7.36 22Z" fill="#0000ff"/>
<path transform="translate(483.4,3976.5)" d="M14.64 -18L15.79 -17L16.8 -16L17.7 -15L18.5 -14L-18.5 -14L-17.7 -15L-16.8 -16L-15.79 -17L-14.64 -18ZM20.93 -10L21.38 -9L21.78 -8L22.12 -7L22.41 -6L-22.41 -6L-22.12 -7L-21.78 -8L-21.38 -9L-20.93 -10ZM23.11 -2L23.18 -1L23.2 0L23.18 1L23.11 2L-23.11 2L-23.18 1L-23.2 0L-23.18 -1L-23.11 -2ZM22.41 6L22.12 7L21.78 8L21.38 9L20.93 10L-20.93 10L-21.38 9L-21.78 8L-22.12 7L-22.41 6ZM18.5 14L17.7 15L16.8 16L15.79 17L14.64 18L-14.64 18L-15.79 17L-16.8 16L-17.7 15L-18.5 14ZM7.36 22L6.57 22.25L5.66 22.5L4.55 22.75L3.04 23L-3.04 23L-4.55 22.75L-5.66 22.5L-6.57 22.25L-7.36 22Z" fill="#0000ff"/>
<path transform="translate(484,3974.5)" d="M14.64 -18L15.79 -17L16.8 -16L17.7 -15L18.5 -14L-18.5 -14L-17.7 -15L-16.8 -16L-15.79 -17L-14.64 -18ZM20.93 -10L21.38 -9L21.78 -8L22.12 -7L22.41 -6L-22.41 -6L-22.12 -7L-21.78 -8L-21.38 -9L-20.93 -10ZM23.11 -2L23.18 -1L23.2 0L23.18 1L23.11 2L-23.11 2L-23.18 1L-23.2 0L-23.18 -1L-23.11 -2ZM22.41 6L22.12 7L21.78 8L21.38 9L20.93 10L-20.93 10L-21.38 9L-21.78 8L-22.12 7L-22.41 6ZM18.5 14L17.7 15L16.8 16L15.79 17L14.64 18L-14.64 18L-15.79 17L-16.8 16L-17.7 15L-18.5 14ZM7.36 22L6.57 22.25L5.66 22.5L4.55 22.75L3.04 23L-3.04 23L-4.55 22.75L-5.66 22.5L-6.57 22.25L-7.36 22Z" fill="#0000ff"/>
<path transform="translate(484.8,3972)" d="M14.64 -18L15.79 -17L16.8 -16L17.7 -15L18.5 -14L-18.5 -14L-17.7 -15L-16.8 -16L-15.79 -17L-14.64 -18ZM20.93 -10L21.38 -9L21.78 -8L22.12 -7L22.41 -6L-22.41 -6L-22.12 -7L-21.78 -8L-21.38 -9L-20.93 -10ZM23.11 -2L23.18 -1L23.2 0L23.18 1L23.11 2L-23.11 2L-23.18 1L-23.2 0L-23.18 -1L-23.11 -2ZM22.41 6L22.12 7L21.78 8L21.38 9L20.93 10L-20.93 10L-21.38 9L-21.78 8L-22.12 7L-22.41 6ZM18.5 14L17.7 15L16.8 16L15.79 17L14.64 18L-14.64 18L-15.79 17L-16.8 16L-17.7 15L-18.5 14ZM7.36 22L6.57 22.25L5.66 22.5L4.55 22.75L3.04 23L-3.04 23L-4.55 22.75L-5.66 22.5L-6.57 22.25L-7.36 22Z" fill="#0000ff"/>
<path transform="translate(485.6,3969.5)" d="M14.64 -18L15.79 -17L16.8 -16L17.7 -15L18.5 -14L-18.5 -14L-17.7 -15L-16.8 -16L-15.79 -17L-14.64 -18ZM20.93 -10L21.38 -9L21.78 -8L22.12 -7L22.41 -6L-22.41 -6L-22.12 -7L-21.78 -8L-21.38 -9L-20.93 -10ZM23.11 -2L23.18 -1L23.2 0L23.18 1L23.11 2L-23.11 2L-23.18 1L-23.2 0L-23.18 -1L-23.11 -2ZM22.41 6L22.12 7L21.78 8L21.38 9L20.93 10L-20.93 10L-21.38 9L-21.78 8L-22.12 7L-22.41 6ZM18.5 14L17.7 15L16.8 16L15.79 17L14.64 18L-14.64 18L-15.79 17L-16.8 16L-17.7 15L-18.5 14ZM7.36 22L6.57 22.25L5.66 22.5L4.55 22.75L3.04 23L-3.04 23L-4.55 22.75L-5.66 22.5L-6.57 22.25L-7.36 22Z" fill="#0000ff"/>
<path transform="translate(486.5,3967)" d="M14.64 -18L15.79 -17L16.8 -16L17.7 -15L18.5 -14L-18.5 -14L-17.7 -15L-16.8 -16L-15.79 -17L-14.64 -18ZM20.93 -10L21.38 -9L21.78 -8L22.12 -7L22.41 -6L-22.41 -6L-22.12 -7L-21.78 -8L-21.38 -9L-20.93 -10ZM23.11 -2L23.18 -1L23.2 0L23.18 1L23.11 2L-23.11 2L-23.18 1L-23.2 0L-23.18 -1L-23.11 -2ZM22.41 6L22.12 7L21.78 8L21.38 9L20.93 10L-20.93 10L-21.38 9L-21.78 8L-22.12 7L-22.41 6ZM18.5 14L17.7 15L16.8 16L15.79 17L14.64 18L-14.64 18L-15.79 17L-16.8 16L-17.7 15L-18.5 14ZM7.36 22L6.57 22.25L5.66 22.5L4.55 22.75L3.04 23L-3.04 23L-4.55 22.75L-5.66 22.5L-6.57 22.25L-7.36 22Z" fill="#0000ff"/>
<path transform="translate(487.5,3964.5)" d="M14.64 -18L15.79 -17L16.8 -16L17.7 -15L18.5 -14L-18.5 -14L-17.7 -15L-16.8 -16L-15.79 -17L-14.64 -18ZM20.93 -10L21.38 -9L21.78 -8L22.12 -7L22.41 -6L-22.41 -6L-22.12 -7L-21.78 -8L-21.38 -9L-20.93 -10ZM23.11 -2L23.18 -1L23.2 0L23.18 1L23.11 2L-23.11 2L-23.18 1L-23.2 0L-23.18 -1L-23.11 -2ZM22.41 6L22.12 7L21.78 8L21.38 9L20.93 10L-20.93 10L-21.38 9L-21.78 8L-22.12 7L-22.41 6ZM18.5 14L17.7 15L16.8 16L15.79 17L14.64 18L-14.64 18L-15.79 17L-16.8 16L-17.7 15L-18.5 14ZM7.36 22L6.57 22.25L5.66 22.5L4.55 22.75L3.04 23L-3.04 23L-4.55 22.75L-5.66 22.5L-6.57 22.25L-7.36 22Z" fill="#0000ff"/>
<path transform="translate(488.7,3961.5)" d="M14.64 -18L15.79 -17L16.8 -16L17.7 -15L18.5 -14L-18.5 -14L-17.7 -15L-16.8 -16L-15.79 -17L-14.64 -18ZM20.93 -10L21.38 -9L21.78 -8L22.12 -7L22.41 -6L-22.41 -6L-22.12 -7L-21.78 -8L-21.38 -9L-20.93 -10ZM23.11 -2L23.18 -1L23.2 0L23.18 1L23.11 2L-23.11 2L-23.18 1L-23.2 0L-23.18 -1L-23.11 -2ZM22.41 6L22.12 7L21.78 8L21.38 9L20.93 10L-20.93 10L-21.38 9L-21.78 8L-22.12 7L-22.41 6ZM18.5 14L17.7 15L16.8 16L15.79 17L14.64 18L-14.64 18L-15.79 17L-16.8 16L-17.7 15L-18.5 14ZM7.36 22L6.57 22.25L5.66 22.5L4.55 22.75L3.04 23L-3.04 23L-4.55 22.75L-5.66 22.5L-6.57 22.25L-7.36 22Z" fill="#0000ff"/>
<path transform="translate(490,3958.5)" d="M14.64 -18L15.79 -17L16.8 -16L17.7 -15L18.5 -14L-18.5 -14L-17.7 -15L-16.8 -16L-15.79 -17L-14.64 -18ZM20.93 -10L21.38 -9L21.78 -8L22.12 -7L22.41 -6L-22.41 -6L-22.12 -7L-21.78 -8L-21.38 -9L-20.93 -10ZM23.11 -2L23.18 -1L23.2 0L23.18 1L23.11 2L-23.11 2L-23.18 1L-23.2 0L-23.18 -1L-23.11 -2ZM22.41 6L22.12 7L21.78 8L21.38 9L20.93 10L-20.93 10L-21.38 9L-21.78 8L-22.12 7L-22.41 6ZM18.5 14L17.7 15L16.8 16L15.79 17L14.64 18L-14.64 18L-15.79 17L-16.8 16L-17.7 15L-18.5 14ZM7.36 22L6.57 22.25L5.66 22.5L4.55 22.75L3.04 23L-3.04 23L-4.55 22.75L-5.66 22.5L-6.57 22.25L-7.36 22Z" fill="#0000ff"/>
<path transform="translate(491.5,3955)" d="M14.64 -18L15.79 -17L16.8 -16L17.7 -15L18.5 -14L-18.5 -14L-17.7 -15L-16.8 -16L-15.79 -17L-14.64 -18ZM20.93 -10L21.38 -9L21.78 -8L22.12 -7L22.41 -6L-22.41 -6L-22.12 -7L-21.78 -8L-21.38 -9L-20.93 -10ZM23.11 -2L23.18 -1L23.2 0L23.18 1L23.11 2L-23.11 2L-23.18 1L-23.2 0L-23.18 -1L-23.11 -2ZM22.41 6L22.12 7L21.78 8L21.38 9L20.93 10L-20.93 10L-21.38 9L-21.78 8L-22.12 7L-22.41 6ZM18.5 14L17.7 15L16.8 16L15.79 17L14.64 18L-14.64 18L-15.79 17L-16.8 16L-17.7 15L-18.5 14ZM7.36 22L6.57 22.25L5.66 22.5L4.55 22.75L3.04 23L-3.04 23L-4.55 22.75L-5.66 22.5L-6.57 22.25L-7.36 22Z" fill="#0000ff"/>
<path transform="translate(493.8,3945)" d="M14.64 -18L15.79 -17L16.8 -16L17.7 -15L18.5 -14L-18.5 -14L-17.7 -15L-16.8 -16L-15.79 -17L-14.64 -18ZM20.93 -10L21.38 -9L21.78 -8L22.12 -7L22.41 -6L-22.41 -6L-22.12 -7L-21.78 -8L-21.38 -9L-20.93 -10ZM23.11 -2L23.18 -1L23.2 0L23.18 1L23.11 2L-23.11 2L-23.18 1L-23.2 0L-23.18 -1L-23.11 -2ZM22.41 6L22.12 7L21.78 8L21.38 9L20.93 10L-20.93 10L-21.38 9L-21.78 8L-22.12 7L-22.41 6ZM18.5 14L17.7 15L16.8 16L15.79 17L14.64 18L-14.64 18L-15.79 17L-16.8 16L-17.7 15L-18.5 14ZM7.36 22L6.57 22.25L5.66 22.5L4.55 22.75L3.04 23L-3.04 23L-4.55 22.75L-5.66 22.5L-6.57 22.25L-7.36 22Z" fill="#0000ff"/>
<path transform="translate(498,3929)" d="M14.64 -18L15.79 -17L16.8 -16L17.7 -15L18.5 -14L-18.5 -14L-17.7 -15L-16.8 -16L-15.79 -17L-14.64 -18ZM20.93 -10L21.38 -9L21.78 -8L22.12 -7L22.41 -6L-22.41 -6L-22.12 -7L-21.78 -8L-21.38 -9L-20.93 -10ZM23.11 -2L23.18 -1L23.2 0L23.18 1L23.11 2L-23.11 2L-23.18 1L-23.2 0L-23.18 -1L-23.11 -2ZM22.41 6L22.12 7L21.78 8L21.38 9L20.93 10L-20.93 10L-21.38 9L-21.78 8L-22.12 7L-22.41 6ZM18.5 14L17.7 15L16.8 16L15.79 17L14.64 18L-14.64 18L-15.79 17L-16.8 16L-17.7 15L-18.5 14ZM7.36 22L6.57 22.25L5.66 22.5L4.55 22.75L3.04 23L-3.04 23L-4.55 22.75L-5.66 22.5L-6.57 22.25L-7.36 22Z" fill="#0000ff"/>
<path transform="translate(505.8,3910)" d="M14.64 -18L15.79 -17L16.8 -16L17.7 -15L18.5 -14L-18.5 -14L-17.7 -15L-16.8 -16L-15.79 -17L-14.64 -18ZM20.93 -10L21.38 -9L21.78 -8L22.12 -7L22.41 -6L-22.41 -6L-22.12 -7L-21.78 -8L-21.38 -9L-20.93 -10ZM23.11 -2L23.18 -1L23.2 0L23.18 1L23.11 2L-23.11 2L-23.18 1L-23.2 0L-23.18 -1L-23.11 -2ZM22.41 6L22.12 7L21.78 8L21.38 9L20.93 10L-20.93 10L-21.38 9L-21.78 8L-22.12 7L-22.41 6ZM18.5 14L17.7 15L16.8 16L15.79 17L14.64 18L-14.64 18L-15.79 17L-16.8 16L-17.7 15L-18.5 14ZM7.36 22L6.57 22.25L5.66 22.5L4.55 22.75L3.04 23L-3.04 23L-4.55 22.75L-5.66 22.5L-6.57 22.25L-7.36 22Z" fill="#0000ff"/>
<path transform="translate(521.9,3878)" d="M14.64 -18L15.79 -17L16.8 -16L17.7 -15L18.5 -14L-18.5 -14L-17.7 -15L-16.8 -16L-15.79 -17L-14.64 -18ZM20.93 -10L21.38 -9L21.78 -8L22.12 -7L22.41 -6L-22.41 -6L-22.12 -7L-21.78 -8L-21.38 -9L-20.93 -10ZM23.11 -2L23.18 -1L23.2 0L23.18 1L23.11 2L-23.11 2L-23.18 1L-23.2 0L-23.18 -1L-23.11 -2ZM22.41 6L22.12 7L21.78 8L21.38 9L20.93 10L-20.93 10L-21.38 9L-21.78 8L-22.12 7L-22.41 6ZM18.5 14L17.7 15L16.8 16L15.79 17L14.64 18L-14.64 18L-15.79 17L-16.8 16L-17.7 15L-18.5 14ZM7.36 22L6.57 22.25L5.66 22.5L4.55 22.75L3.04 23L-3.04 23L-4.55 22.75L-5.66 22.5L-6.57 22.25L-7.36 22Z" fill="#0000ff"/>
<path transform="translate(550.2,3838.2)" d="M14.64 -18L15.79 -17L16.8 -16L17.7 -15L18.5 -14L-18.5 -14L-17.7 -15L-16.8 -16L-15.79 -17L-14.64 -18ZM20.93 -10L21.38 -9L21.78 -8L22.12 -7L22.41 -6L-22.41 -6L-22.12 -7L-21.78 -8L-21.38 -9L-20.93 -10ZM23.11 -2L23.18 -1L23.2 0L23.18 1L23.11 2L-23.11 2L-23.18 1L-23.2 0L-23.18 -1L-23.11 -2ZM22.41 6L22.12 7L21.78 8L21.38 9L20.93 10L-20.93 10L-21.38 9L-21.78 8L-22.12 7L-22.41 6ZM18.5 14L17.7 15L16.8 16L15.79 17L14.64 18L-14.64 18L-15.79 17L-16.8 16L-17.7 15L-18.5 14ZM7.36 22L6.57 22.25L5.66 22.5L4.55 22.75L3.04 23L-3.04 23L-4.55 22.75L-5.66 22.5L-6.57 22.25L-7.36 22Z" fill="#0000ff"/>
<path transform="translate(594.7,3796)" d="M14.64 -18L15.79 -17L16.8 -16L17.7 -15L18.5 -14L-18.5 -14L-17.7 -15L-16.8 -16L-15.79 -17L-14.64 -18ZM20.93 -10L21.38 -9L21.78 -8L22.12 -7L22.41 -6L-22.41 -6L-22.12 -7L-21.78 -8L-21.38 -9L-20.93 -10ZM23.11 -2L23.18 -1L23.2 0L23.18 1L23.11 2L-23.11 2L-23.18 1L-23.2 0L-23.18 -1L-23.11 -2ZM22.41 6L22.12 7L21.78 8L21.38 9L20.93 10L-20.93 10L-21.38 9L-21.78 8L-22.12 7L-22.41 6ZM18.5 14L17.7 15L16.8 16L15.79 17L14.64 18L-14.64 18L-15.79 17L-16.8 16L-17.7 15L-18.5 14ZM7.36 22L6.57 22.25L5.66 22.5L4.55 22.75L3.04 23L-3.04 23L-4.55 22.75L-5.66 22.5L-6.57 22.25L-7.36 22Z" fill="#0000ff"/>
<path transform="translate(655.5,3757)" d="M14.64 -18L15.79 -17L16.8 -16L17.7 -15L18.5 -14L-18.5 -14L-17.7 -15L-16.8 -16L-15.79 -17L-14.64 -18ZM20.93 -10L21.38 -9L21.78 -8L22.12 -7L22.41 -6L-22.41 -6L-22.12 -7L-21.78 -8L-21.38 -9L-20.93 -10ZM23.11 -2L23.18 -1L23.2 0L23.18 1L23.11 2L-23.11 2L-23.18 1L-23.2 0L-23.18 -1L-23.11 -2ZM22.41 6L22.12 7L21.78 8L21.38 9L20.93 10L-20.93 10L-21.38 9L-21.78 8L-22.12 7L-22.41 6ZM18.5 14L17.7 15L16.8 16L15.79 17L14.64 18L-14.64 18L-15.79 17L-16.8 16L-17.7 15L-18.5 14ZM7.36 22L6.57 22.25L5.66 22.5L4.55 22.75L3.04 23L-3.04 23L-4.55 22.75L-5.66 22.5L-6.57 22.25L-7.36 22Z" fill="#0000ff"/>
<path transform="translate(724.5,3722)" d="M14.64 -18L15.79 -17L16.8 -16L17.7 -15L18.5 -14L-18.5 -14L-17.7 -15L-16.8 -16L-15.79 -17L-14.64 -18ZM20.93 -10L21.38 -9L21.78 -8L22.12 -7L22.41 -6L-22.41 -6L-22.12 -7L-21.78 -8L-21.38 -9L-20.93 -10ZM23.11 -2L23.18 -1L23.2 0L23.18 1L23.11 2L-23.11 2L-23.18 1L-23.2 0L-23.18 -1L-23.11 -2ZM22.41 6L22.12 7L21.78 8L21.38 9L20.93 10L-20.93 10L-21.38 9L-21.78 8L-22.12 7L-22.41 6ZM18.5 14L17.7 15L16.8 16L15.79 17L14.64 18L-14.64 18L-15.79 17L-16.8 16L-17.7 15L-18.5 14ZM7.36 22L6.57 22.25L5.66 22.5L4.55 22.75L3.04 23L-3.04 23L-4.55 22.75L-5.66 22.5L-6.57 22.25L-7.36 22Z" fill="#0000ff"/>
<path transform="translate(795.1,3688.4)" d="M14.64 -18L15.79 -17L16.8 -16L17.7 -15L18.5 -14L-18.5 -14L-17.7 -15L-16.8 -16L-15.79 -17L-14.64 -18ZM20.93 -10L21.38 -9L21.78 -8L22.12 -7L22.41 -6L-22.41 -6L-22.12 -7L-21.78 -8L-21.38 -9L-20.93 -10ZM23.11 -2L23.18 -1L23.2 0L23.18 1L23.11 2L-23.11 2L-23.18 1L-23.2 0L-23.18 -1L-23.11 -2ZM22.41 6L22.12 7L21.78 8L21.38 9L20.93 10L-20.93 10L-21.38 9L-21.78 8L-22.12 7L-22.41 6ZM18.5 14L17.7 15L16.8 16L15.79 17L14.64 18L-14.64 18L-15.79 17L-16.8 16L-17.7 15L-18.5 14ZM7.36 22L6.57 22.25L5.66 22.5L4.55 22.75L3.04 23L-3.04 23L-4.55 22.75L-5.66 22.5L-6.57 22.25L-7.36 22Z" fill="#0000ff"/>
<path transform="translate(875.1,3640)" d="M14.64 -18L15.79 -17L16.8 -16L17.7 -15L18.5 -14L-18.5 -14L-17.7 -15L-16.8 -16L-15.79 -17L-14.64 -18ZM20.93 -10L21.38 -9L21.78 -8L22.12 -7L22.41 -6L-22.41 -6L-22.12 -7L-21.78 -8L-21.38 -9L-20.93 -10ZM23.11 -2L23.18 -1L23.2 0L23.18 1L23.11 2L-23.11 2L-23.18 1L-23.2 0L-23.18 -1L-23.11 -2ZM22.41 6L22.12 7L21.78 8L21.38 9L20.93 10L-20.93 10L-21.38 9L-21.78 8L-22.12 7L-22.41 6ZM18.5 14L17.7 15L16.8 16L15.79 17L14.64 18L-14.64 18L-15.79 17L-16.8 16L-17.7 15L-18.5 14ZM7.36 22L6.57 22.25L5.66 22.5L4.55 22.75L3.04 23L-3.04 23L-4.55 22.75L-5.66 22.5L-6.57 22.25L-7.36 22Z" fill="#0000ff"/>
<path transform="translate(973.3,3576.8)" d="M14.64 -18L15.79 -17L16.8 -16L17.7 -15L18.5 -14L-18.5 -14L-17.7 -15L-16.8 -16L-15.79 -17L-14.64 -18ZM20.93 -10L21.38 -9L21.78 -8L22.12 -7L22.41 -6L-22.41 -6L-22.12 -7L-21.78 -8L-21.38 -9L-20.93 -10ZM23.11 -2L23.18 -1L23.2 0L23.18 1L23.11 2L-23.11 2L-23.18 1L-23.2 0L-23.18 -1L-23.11 -2ZM22.41 6L22.12 7L21.78 8L21.38 9L20.93 10L-20.93 10L-21.38 9L-21.78 8L-22.12 7L-22.41 6ZM18.5 14L17.7 15L16.8 16L15.79 17L14.64 18L-14.64 18L-15.79 17L-16.8 16L-17.7 15L-18.5 14ZM7.36 22L6.57 22.25L5.66 22.5L4.55 22.75L3.04 23L-3.04 23L-4.55 22.75L-5.66 22.5L-6.57 22.25L-7.36 22Z" fill="#0000ff"/>
<path transform="translate(1099.2,3499.4)" d="M14.64 -18L15.79 -17L16.8 -16L17.7 -15L18.5 -14L-18.5 -14L-17.7 -15L-16.8 -16L-15.79 -17L-14.64 -18ZM20.93 -10L21.38 -9L21.78 -8L22.12 -7L22.41 -6L-22.41 -6L-22.12 -7L-21.78 -8L-21.38 -9L-20.93 -10ZM23.11 -2L23.18 -1L23.2 0L23.18 1L23.11 2L-23.11 2L-23.18 1L-23.2 0L-23.18 -1L-23.11 -2ZM22.41 6L22.12 7L21.78 8L21.38 9L20.93 10L-20.93 10L-21.38 9L-21.78 8L-22.12 7L-22.41 6ZM18.5 14L17.7 15L16.8 16L15.79 17L14.64 18L-14.64 18L-15.79 17L-16.8 16L-17.7 15L-18.5 14ZM7.36 22L6.57 22.25L5.66 22.5L4.55 22.75L3.04 23L-3.04 23L-4.55 22.75L-5.66 22.5L-6.57 22.25L-7.36 22Z" fill="#0000ff"/>
<path transform="translate(1257.4,3413)" d="M14.64 -18L15.79 -17L16.8 -16L17.7 -15L18.5 -14L-18.5 -14L-17.7 -15L-16.8 -16L-15.79 -17L-14.64 -18ZM20.93 -10L21.38 -9L21.78 -8L22.12 -7L22.41 -6L-22.41 -6L-22.12 -7L-21.78 -8L-21.38 -9L-20.93 -10ZM23.11 -2L23.18 -1L23.2 0L23.18 1L23.11 2L-23.11 2L-23.18 1L-23.2 0L-23.18 -1L-23.11 -2ZM22.41 6L22.12 7L21.78 8L21.38 9L20.93 10L-20.93 10L-21.38 9L-21.78 8L-22.12 7L-22.41 6ZM18.5 14L17.7 15L16.8 16L15.79 17L14.64 18L-14.64 18L-15.79 17L-16.8 16L-17.7 15L-18.5 14ZM7.36 22L6.57 22.25L5.66 22.5L4.55 22.75L3.04 23L-3.04 23L-4.55 22.75L-5.66 22.5L-6.57 22.25L-7.36 22Z" fill="#0000ff"/>
<path transform="translate(1446,3311.2)" d="M14.64 -18L15.79 -17L16.8 -16L17.7 -15L18.5 -14L-18.5 -14L-17.7 -15L-16.8 -16L-15.79 -17L-14.64 -18ZM20.93 -10L21.38 -9L21.78 -8L22.12 -7L22.41 -6L-22.41 -6L-22.12 -7L-21.78 -8L-21.38 -9L-20.93 -10ZM23.11 -2L23.18 -1L23.2 0L23.18 1L23.11 2L-23.11 2L-23.18 1L-23.2 0L-23.18 -1L-23.11 -2ZM22.41 6L22.12 7L21.78 8L21.38 9L20.93 10L-20.93 10L-21.38 9L-21.78 8L-22.12 7L-22.41 6ZM18.5 14L17.7 15L16.8 16L15.79 17L14.64 18L-14.64 18L-15.79 17L-16.8 16L-17.7 15L-18.5 14ZM7.36 22L6.57 22.25L5.66 22.5L4.55 22.75L3.04 23L-3.04 23L-4.55 22.75L-5.66 22.5L-6.57 22.25L-7.36 22Z" fill="#0000ff"/>
<path transform="translate(1675.1,3165.2)" d="M14.64 -18L15.79 -17L16.8 -16L17.7 -15L18.5 -14L-18.5 -14L-17.7 -15L-16.8 -16L-15.79 -17L-14.64 -18ZM20.93 -10L21.38 -9L21.78 -8L22.12 -7L22.41 -6L-22.41 -6L-22.12 -7L-21.78 -8L-21.38 -9L-20.93 -10ZM23.11 -2L23.18 -1L23.2 0L23.18 1L23.11 2L-23.11 2L-23.18 1L-23.2 0L-23.18 -1L-23.11 -2ZM22.41 6L22.12 7L21.78 8L21.38 9L20.93 10L-20.93 10L-21.38 9L-21.78 8L-22.12 7L-22.41 6ZM18.5 14L17.7 15L16.8 16L15.79 17L14.64 18L-14.64 18L-15.79 17L-16.8 16L-17.7 15L-18.5 14ZM7.36 22L6.57 22.25L5.66 22.5L4.55 22.75L3.04 23L-3.04 23L-4.55 22.75L-5.66 22.5L-6.57 22.25L-7.36 22Z" fill="#0000ff"/>
<rect x="547.2" y="2233.8" width="1225.3" height="570.2" fill="#fff" stroke="#000" stroke-width="3.5" shape-rendering="geometricPrecision"/>
<text transform="translate(605.66,2317.6) scale(0.9799,1.0475)" font-size="76" font-weight="bold">Copper mold centrifugal casting</text>
<text transform="translate(602.53,2412) scale(0.9857,1.0635)" font-size="76" font-weight="bold">Al-Si-Fe-Cu-Zn</text>
<text transform="translate(798.35,2506.4) scale(1.0084,1.0475)" font-size="76">Nonmodified</text>
<text transform="translate(798.57,2599.3) scale(1.0046,1.0475)" font-size="76">Ni-containing</text>
<text transform="translate(798.98,2692.4) scale(1.0059,1.0475)" font-size="76">Co-containing</text>
<text transform="translate(798.93,2786.9) scale(1.0122,1.0475)" font-size="76">Fitting</text>
<path transform="translate(691,2495)" d="M-2.31 -43L2.31 -43L4.62 -39L-4.62 -39ZM-6.93 -35L6.93 -35L9.24 -31L-9.24 -31ZM-11.55 -27L11.55 -27L13.86 -23L-13.86 -23ZM-16.17 -19L16.17 -19L18.48 -15L-18.48 -15ZM-20.78 -11L20.78 -11L23.09 -7L-23.09 -7ZM-25.4 -3L25.4 -3L27.14 0L-27.14 0Z" fill="#008000"/>
<path transform="translate(691,2574)" d="M-20.6 -18h41.2v4h-41.2ZM-20.6 -10h41.2v4h-41.2ZM-20.6 -2h41.2v4h-41.2ZM-20.6 6h41.2v4h-41.2ZM-20.6 14h41.2v4h-41.2Z" fill="#000"/>
<path transform="translate(691,2667)" d="M14.64 -18L15.79 -17L16.8 -16L17.7 -15L18.5 -14L-18.5 -14L-17.7 -15L-16.8 -16L-15.79 -17L-14.64 -18ZM20.93 -10L21.38 -9L21.78 -8L22.12 -7L22.41 -6L-22.41 -6L-22.12 -7L-21.78 -8L-21.38 -9L-20.93 -10ZM23.11 -2L23.18 -1L23.2 0L23.18 1L23.11 2L-23.11 2L-23.18 1L-23.2 0L-23.18 -1L-23.11 -2ZM22.41 6L22.12 7L21.78 8L21.38 9L20.93 10L-20.93 10L-21.38 9L-21.78 8L-22.12 7L-22.41 6ZM18.5 14L17.7 15L16.8 16L15.79 17L14.64 18L-14.64 18L-15.79 17L-16.8 16L-17.7 15L-18.5 14ZM7.36 22L6.57 22.25L5.66 22.5L4.55 22.75L3.04 23L-3.04 23L-4.55 22.75L-5.66 22.5L-6.57 22.25L-7.36 22Z" fill="#0000ff"/>
<line x1="607" y1="2758.8" x2="776" y2="2758.8" stroke="#ff0000" stroke-width="7" stroke-linecap="round"/>
<text transform="translate(1950.74,2487.1) scale(1.0156,0.9727)" font-size="70">(b)</text>
</g>
</svg>
</body></html>
